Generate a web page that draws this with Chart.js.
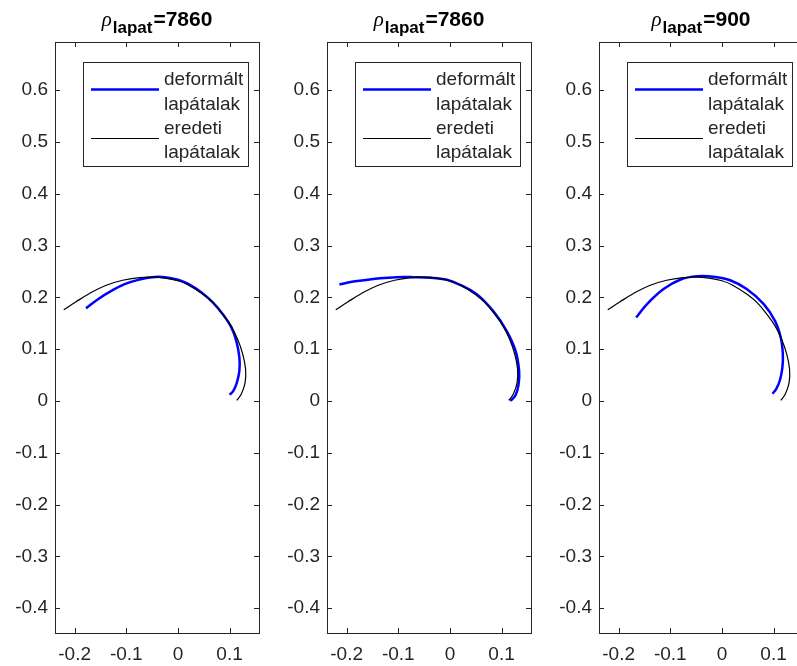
<!DOCTYPE html>
<html>
<head>
<meta charset="utf-8">
<script src="https://cdn.jsdelivr.net/npm/chart.js@4"></script>
<style>
  html, body { margin: 0; padding: 0; background: #fff; }
  body { width: 797px; height: 666px; overflow: hidden; position: relative; }
  canvas { position: absolute; top: 0; }
</style>
</head>
<body>
<canvas id="c1" width="271" height="666" style="left:0px"></canvas>
<canvas id="c2" width="271" height="666" style="left:272px"></canvas>
<canvas id="c3" width="271" height="666" style="left:544px"></canvas>
<script>
const densities = [7860, 7860, 900];
const legendLabels = ['deformált lapátalak', 'eredeti lapátalak'];
const xTicks = [-0.2, -0.1, 0, 0.1];
const yTicks = [-0.4, -0.3, -0.2, -0.1, 0, 0.1, 0.2, 0.3, 0.4, 0.5, 0.6];

// eredeti lapátalak (same in every panel)
const origX = [-0.221, -0.198, -0.172, -0.140, -0.107, -0.075, -0.050, -0.025, 0.000, 0.020, 0.050, 0.070, 0.088, 0.104, 0.116, 0.125, 0.131, 0.130, 0.123, 0.114];
const origY = [0.176, 0.191, 0.207, 0.223, 0.233, 0.238, 0.239, 0.237, 0.232, 0.224, 0.205, 0.188, 0.166, 0.143, 0.118, 0.092, 0.062, 0.035, 0.014, 0.001];

// deformált lapátalak, one per panel
const defX1 = [-0.178, -0.154, -0.128, -0.102, -0.076, -0.050, -0.025, 0.000, 0.020, 0.045, 0.068, 0.088, 0.103, 0.113, 0.119, 0.119, 0.114, 0.107, 0.100];
const defY1 = [0.179, 0.197, 0.213, 0.226, 0.234, 0.239, 0.239, 0.234, 0.226, 0.210, 0.190, 0.166, 0.143, 0.116, 0.084, 0.058, 0.035, 0.019, 0.012];
const defX2 = [-0.214, -0.190, -0.167, -0.135, -0.103, -0.071, -0.038, -0.006, 0.020, 0.052, 0.085, 0.110, 0.127, 0.134, 0.133, 0.127, 0.117];
const defY2 = [0.225, 0.230, 0.233, 0.237, 0.239, 0.239, 0.238, 0.234, 0.224, 0.206, 0.172, 0.135, 0.097, 0.058, 0.032, 0.011, 0.000];
const defX3 = [-0.166, -0.145, -0.113, -0.081, -0.048, -0.016, 0.016, 0.048, 0.081, 0.103, 0.114, 0.118, 0.117, 0.112, 0.105, 0.098];
const defY3 = [0.161, 0.187, 0.216, 0.234, 0.241, 0.240, 0.233, 0.216, 0.187, 0.154, 0.122, 0.090, 0.064, 0.039, 0.023, 0.014];

const AXIS = '#262626';
const FONT = '"Liberation Sans", Arial, sans-serif';

function pts(xs, ys) {
  return xs.map((x, i) => ({ x: x, y: ys[i] }));
}

// MATLAB style box with inward ticks on all four sides
const boxPlugin = {
  id: 'matlabBox',
  afterDraw(chart) {
    const ctx = chart.ctx, a = chart.chartArea;
    const sx = chart.scales.x, sy = chart.scales.y;
    const L = Math.round(a.left), R = Math.round(a.right);
    const T = Math.round(a.top), B = Math.round(a.bottom);
    ctx.save();
    ctx.fillStyle = AXIS;
    xTicks.forEach(v => {
      const px = Math.round(sx.getPixelForValue(v));
      ctx.fillRect(px, B - 5, 1, 5);
      ctx.fillRect(px, T, 1, 5);
    });
    yTicks.forEach(v => {
      const py = Math.round(sy.getPixelForValue(v));
      ctx.fillRect(L, py, 5, 1);
      ctx.fillRect(R - 5, py, 5, 1);
    });
    ctx.fillRect(L, T, R - L + 1, 1);
    ctx.fillRect(L, B, R - L + 1, 1);
    ctx.fillRect(L, T, 1, B - T);
    ctx.fillRect(R, T, 1, B - T);
    ctx.restore();
  }
};

const legendPlugin = {
  id: 'boxLegend',
  afterDraw(chart) {
    const ctx = chart.ctx, a = chart.chartArea;
    const left = Math.round(a.left) + 28, top = Math.round(a.top) + 20;
    ctx.save();
    ctx.fillStyle = '#fff';
    ctx.fillRect(left, top, 165, 104);
    ctx.strokeStyle = AXIS;
    ctx.lineWidth = 1;
    ctx.strokeRect(left + 0.5, top + 0.5, 165, 104);
    const styles = [{ c: '#0000ff', w: 2.5 }, { c: '#000', w: 1 }];
    legendLabels.forEach((lab, i) => {
      const ly = top + 27 + i * 49;
      ctx.strokeStyle = styles[i].c;
      ctx.lineWidth = styles[i].w;
      ctx.beginPath();
      ctx.moveTo(left + 8, ly + 0.5);
      ctx.lineTo(left + 76, ly + 0.5);
      ctx.stroke();
      ctx.fillStyle = AXIS;
      ctx.font = '19px ' + FONT;
      ctx.textBaseline = 'middle';
      ctx.textAlign = 'left';
      lab.split(' ').forEach((w, j) => {
        ctx.fillText(w, left + 81, top + 18 + i * 48.5 + j * 24.5);
      });
    });
    ctx.restore();
  }
};

const titlePlugin = {
  id: 'rhoTitle',
  afterDraw(chart) {
    const ctx = chart.ctx, a = chart.chartArea;
    const val = '=' + chart.options.plugins.rhoTitle.value;
    ctx.save();
    ctx.fillStyle = '#000';
    ctx.textBaseline = 'alphabetic';
    ctx.textAlign = 'left';
    const f1 = 'italic 21px "Liberation Serif", serif';
    const f2 = 'bold 17px ' + FONT;
    const f3 = 'bold 21px ' + FONT;
    ctx.font = f1; const w1 = ctx.measureText('ρ').width;
    ctx.font = f2; const w2 = ctx.measureText('lapat').width;
    ctx.font = f3; const w3 = ctx.measureText(val).width;
    let x = (a.left + a.right) / 2 - (w1 + w2 + w3 + 2) / 2;
    ctx.font = f1; ctx.fillText('ρ', x, 26); x += w1 + 1;
    ctx.font = f2; ctx.fillText('lapat', x, 33); x += w2 + 1;
    ctx.font = f3; ctx.fillText(val, x, 26);
    ctx.restore();
  }
};

function makeChart(id, defX, defY, rho) {
  new Chart(document.getElementById(id), {
    type: 'scatter',
    data: {
      datasets: [
        {
          label: legendLabels[1],
          data: pts(origX, origY),
          showLine: true,
          borderColor: '#000',
          borderWidth: 1.2,
          pointRadius: 0,
          tension: 0.4,
          order: 0
        },
        {
          label: legendLabels[0],
          data: pts(defX, defY),
          showLine: true,
          borderColor: '#0000ff',
          borderWidth: 2.5,
          pointRadius: 0,
          tension: 0.4,
          order: 1
        }
      ]
    },
    options: {
      responsive: false,
      animation: false,
      layout: { padding: { top: 42, right: 12, left: 0, bottom: 0 } },
      plugins: {
        legend: { display: false },
        tooltip: { enabled: false },
        rhoTitle: { value: rho }
      },
      scales: {
        x: {
          type: 'linear',
          min: -0.238,
          max: 0.157,
          afterBuildTicks: s => { s.ticks = xTicks.map(v => ({ value: v })); },
          afterFit: s => { s.height = 33; },
          grid: { display: false, drawTicks: false },
          border: { display: false },
          ticks: {
            padding: 10,
            color: AXIS,
            font: { family: FONT, size: 19 },
            callback: v => String(Math.round(v * 10) / 10)
          }
        },
        y: {
          type: 'linear',
          min: -0.448,
          max: 0.693,
          afterBuildTicks: s => { s.ticks = yTicks.map(v => ({ value: v })); },
          afterFit: s => { s.width = 55; },
          grid: { display: false, drawTicks: false },
          border: { display: false },
          ticks: {
            padding: 7,
            color: AXIS,
            font: { family: FONT, size: 19 },
            callback: v => String(Math.round(v * 10) / 10)
          }
        }
      }
    },
    plugins: [boxPlugin, legendPlugin, titlePlugin]
  });
}

makeChart('c1', defX1, defY1, densities[0]);
makeChart('c2', defX2, defY2, densities[1]);
makeChart('c3', defX3, defY3, densities[2]);
</script>
</body>
</html>
